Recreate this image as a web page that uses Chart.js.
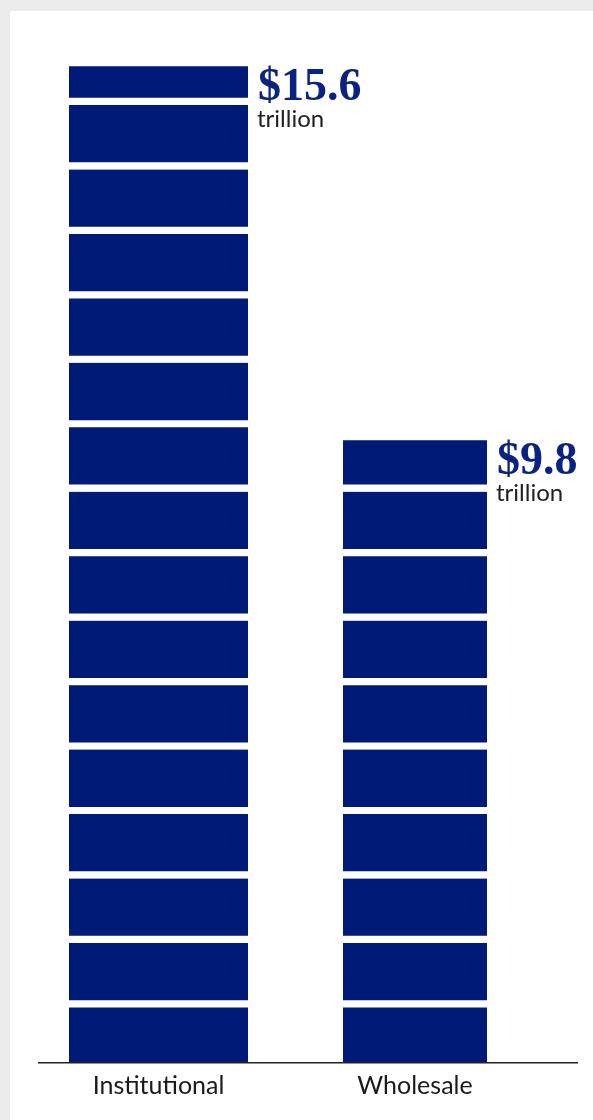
<!DOCTYPE html>
<html lang="en">
<head>
<meta charset="UTF-8">
<title>Institutional vs Wholesale</title>
<script src="https://cdn.jsdelivr.net/npm/chart.js@4.4.7/dist/chart.umd.min.js"></script>
<style>
*{margin:0;padding:0;box-sizing:border-box}
html,body{width:593px;height:1120px;overflow:hidden}
body{background:#ebebeb;position:relative}
.card{position:absolute;left:10px;top:11px;right:0;bottom:0;background:#fff}
#chart{position:absolute;left:0;top:0}
</style>
</head>
<body>
<div class="card"></div>
<canvas id="chart" width="593" height="1120"></canvas>
<script>
// $ trillion, one block = $1 trillion
var CATEGORIES = ["Institutional", "Wholesale"];
var TOTALS = [15.6, 9.8];
var VALUE_LABELS = ["$15.6", "$9.8"];
var UNIT_LABEL = "trillion";
var BLOCK = 1;

var BLUE = "#001a78";
var BAR_THICKNESS = [179, 144];

// split each total into stacked blocks, one dataset per block
var datasets = [];
var topIndex = [];
TOTALS.forEach(function (total, i) {
  var left = total;
  while (left > 0.001) {
    var seg = Math.min(BLOCK, Math.round(left * 10) / 10);
    datasets.push({
      data: [{ x: i, y: seg }],
      backgroundColor: BLUE,
      borderColor: "#fff",
      borderWidth: { top: 0, left: 0, right: 0, bottom: 7.5 },
      borderSkipped: false,
      barThickness: BAR_THICKNESS[i]
    });
    left = Math.round((left - seg) * 10) / 10;
  }
  topIndex.push(datasets.length - 1);
});

var valueLabels = {
  id: "valueLabels",
  afterDatasetsDraw: function (chart) {
    var ctx = chart.ctx;
    ctx.save();
    ctx.textAlign = "left";
    ctx.textBaseline = "alphabetic";
    topIndex.forEach(function (di, i) {
      var el = chart.getDatasetMeta(di).data[0];
      var p = el.getProps(["x", "y", "width"], true);
      var x = p.x + p.width / 2 + 10;
      ctx.fillStyle = "#0a2380";
      ctx.font = "bold 46px 'Liberation Serif', serif";
      ctx.fillText(VALUE_LABELS[i], x, p.y + 34);
      ctx.fillStyle = "#222";
      ctx.font = "24px Lato, sans-serif";
      ctx.fillText(UNIT_LABEL, x - 1, p.y + 61);
    });
    ctx.restore();
  }
};

new Chart(document.getElementById("chart"), {
  type: "bar",
  data: { datasets: datasets },
  plugins: [valueLabels],
  options: {
    responsive: false,
    animation: false,
    events: [],
    layout: { padding: { left: 39, right: 16, top: 20, bottom: 19 } },
    plugins: { legend: { display: false }, tooltip: { enabled: false } },
    scales: {
      x: {
        type: "linear",
        stacked: true,
        offset: false,
        min: -0.4659,
        max: 1.6316,
        afterBuildTicks: function (scale) {
          scale.ticks = CATEGORIES.map(function (c, i) { return { value: i }; });
        },
        grid: { display: false },
        border: { display: true, color: "#222", width: 1.5, z: 1 },
        ticks: {
          padding: 0,
          color: "#1a1a1a",
          font: { family: "Lato, sans-serif", size: 25 },
          callback: function (v) { return CATEGORIES[v]; }
        }
      },
      y: {
        stacked: true,
        display: false,
        min: 0.138,
        max: 16.319
      }
    }
  }
});
</script>
</body>
</html>
